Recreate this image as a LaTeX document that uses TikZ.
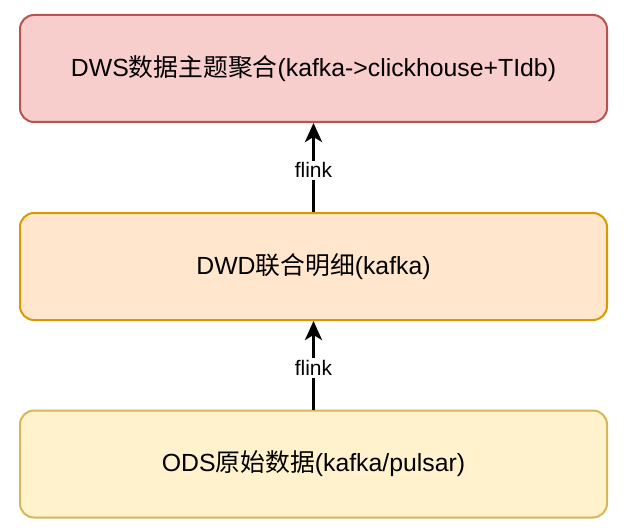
\documentclass[tikz,border=0pt]{standalone}
\usepackage{fontspec}
\setmainfont{Liberation Sans}
\newfontfamily\cjk{Noto Sans CJK SC}
\usetikzlibrary{arrows.meta}
\definecolor{redfill}{HTML}{F8CECC}
\definecolor{redline}{HTML}{B85450}
\definecolor{orfill}{HTML}{FFE6CC}
\definecolor{orline}{HTML}{D79B00}
\definecolor{yefill}{HTML}{FFF2CC}
\definecolor{yeline}{HTML}{D6B656}
\begin{document}
\begin{tikzpicture}[x=1pt,y=-1pt,
  layerbox/.style={draw, line width=2pt, rounded corners=14pt, minimum width=587pt, minimum height=107pt, inner sep=0pt, font=\fontsize{24.8}{29}\selectfont},
  flow/.style={line width=3.2pt, -{Stealth[length=19pt,width=17pt,inset=5pt]}},
  lbl/.style={fill=white, inner sep=2pt, font=\fontsize{21}{24}\selectfont}]
\useasboundingbox (0,0) rectangle (624,532);
\node[layerbox, fill=redfill, draw=redline] (dws) at (313.5,68.5) {DWS{\cjk 数据主题聚合}(kafka->clickhouse+TIdb)};
\node[layerbox, fill=orfill, draw=orline] (dwd) at (313.5,266.5) {DWD{\cjk 联合明细}(kafka)};
\node[layerbox, fill=yefill, draw=yeline] (ods) at (313.5,464) {ODS{\cjk 原始数据}(kafka/pulsar)};
\draw[flow] (dwd.north) -- node[lbl, pos=0.47] {flink} (dws.south);
\draw[flow] (ods.north) -- node[lbl, pos=0.47] {flink} (dwd.south);
\end{tikzpicture}
\end{document}
